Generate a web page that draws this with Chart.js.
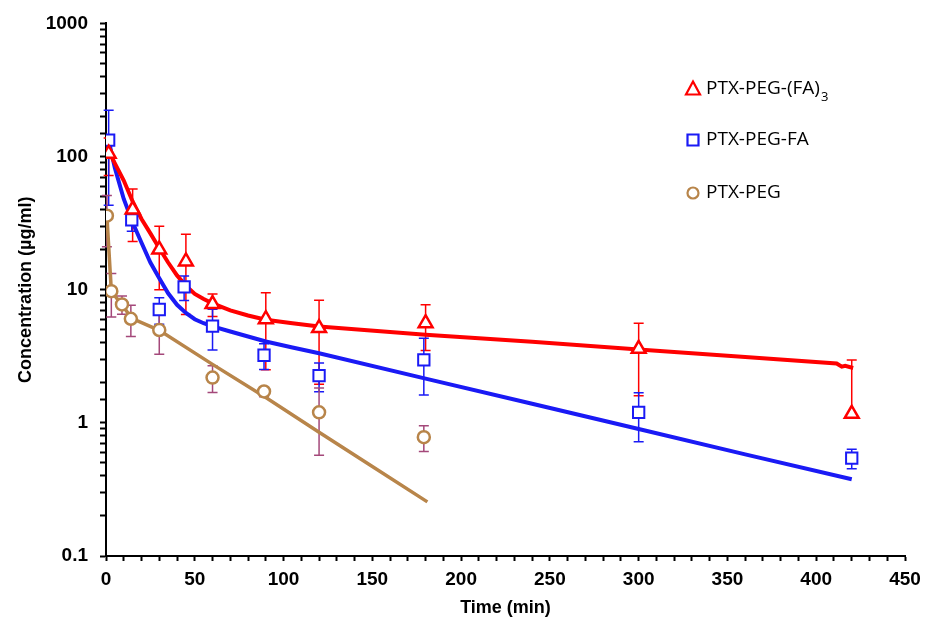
<!DOCTYPE html>
<html>
<head>
<meta charset="utf-8">
<script src="https://cdn.jsdelivr.net/npm/chart.js@4/dist/chart.umd.min.js"></script>
<style>
  html, body { margin: 0; padding: 0; background: #fff; }
  #wrap { width: 930px; height: 621px; position: relative; }
</style>
</head>
<body>
<div id="wrap"><canvas id="c" width="930" height="621"></canvas></div>
<script>
// ---- measured data ----
const redT   = [1.5, 15, 30, 45, 60, 90, 120, 180, 300, 420];
const redC   = [105, 40, 20, 16.3, 7.8, 6.0, 5.15, 5.6, 3.6, 1.17];
const redSD  = [33, 17, 10, 9.8, 1.5, 3.5, 3.2, 2.1, 2.0, 1.8];

const blueT  = [1.5, 14.5, 30, 44, 60, 89, 120, 179, 300, 420];
const blueC  = [133, 33.5, 7.1, 10.5, 5.33, 3.22, 2.26, 2.97, 1.2, 0.543];
const blueSD = [90, 6, 1.6, 2.2, 1.8, 0.7, 0.55, 1.35, 0.48, 0.09];

const brownT  = [0.5, 3, 9, 14, 30, 60, 89, 120, 179];
const brownC  = [36, 9.75, 7.75, 6.05, 4.98, 2.19, 1.72, 1.2, 0.78];
const brownSD = [15, 3.5, 1.2, 1.6, 1.7, 0.5, 0.15, 0.63, 0.17];

// fitted curves
const redFitT  = [1.5, 5, 10, 15, 20, 25, 30, 35, 40, 45, 50, 55, 60, 70, 80, 90, 105, 120, 180, 240, 300, 360, 411.5, 414.4, 416.3, 420.8];
const redFitC  = [110, 89, 66, 46, 34, 26.5, 20.5, 16, 12.8, 10.7, 9.3, 8.5, 7.9, 7.0, 6.4, 5.95, 5.6, 5.3, 4.58, 4.07, 3.56, 3.12, 2.79, 2.64, 2.68, 2.58];
const blueFitT = [1.5, 5, 10, 15, 20, 25, 30, 35, 40, 45, 50, 55, 60, 70, 80, 90, 105, 120, 180, 240, 300, 360, 420];
const blueFitC = [132, 82, 48, 32, 22.5, 16, 12.2, 9.4, 7.7, 6.7, 6.0, 5.6, 5.3, 4.85, 4.45, 4.08, 3.68, 3.33, 2.15, 1.39, 0.90, 0.58, 0.377];
const brownFitT = [0.5, 3, 9, 14.5, 30, 60, 90, 120, 150, 181];
const brownFitC = [36, 9.7, 7.7, 6.1, 4.95, 2.75, 1.55, 0.85, 0.47, 0.255];

const xTicksMajor = [0, 50, 100, 150, 200, 250, 300, 350, 400, 450];
const yTicksMajor = [0.1, 1, 10, 100, 1000];

const seriesNames = ['PTX-PEG-(FA)', 'PTX-PEG-FA', 'PTX-PEG'];
const seriesSub   = ['3', '', ''];

const RED = '#FF0000', BLUE = '#1A1AF5', BROWN = '#B8854A', BROWN_ERR = '#A4487A';

const pts = (t, c) => t.map((v, i) => ({ x: v, y: c[i] }));

const errorBars = {
  id: 'errorBars',
  beforeDatasetsDraw(chart) {
    const { ctx, scales: { x, y } } = chart;
    chart.data.datasets.forEach(ds => {
      if (!ds.sd) return;
      ctx.save();
      ctx.strokeStyle = ds.errColor;
      ctx.lineWidth = 1.5;
      ds.data.forEach((p, i) => {
        const s = ds.sd[i];
        const px = x.getPixelForValue(p.x);
        const yTop = y.getPixelForValue(p.y + s);
        const lo = p.y - s;
        const yBot = lo > 0 ? y.getPixelForValue(lo) : y.getPixelForValue(p.y);
        ctx.beginPath();
        ctx.moveTo(px, yTop); ctx.lineTo(px, yBot);
        ctx.moveTo(px - 5, yTop); ctx.lineTo(px + 5, yTop);
        if (lo > 0) { ctx.moveTo(px - 5, yBot); ctx.lineTo(px + 5, yBot); }
        ctx.stroke();
      });
      ctx.restore();
    });
  }
};

const customLegend = {
  id: 'customLegend',
  afterDraw(chart) {
    const ctx = chart.ctx;
    const rows = [
      { y: 89, color: RED, style: 'triangle' },
      { y: 140, color: BLUE, style: 'rect' },
      { y: 193, color: BROWN, style: 'circle' }
    ];
    ctx.save();
    rows.forEach((r, i) => {
      const mx = 693;
      ctx.strokeStyle = r.color; ctx.lineWidth = 2.2; ctx.fillStyle = '#fff';
      ctx.beginPath();
      if (r.style === 'triangle') {
        ctx.moveTo(mx, r.y - 7.5); ctx.lineTo(mx + 7, r.y + 5.5); ctx.lineTo(mx - 7, r.y + 5.5); ctx.closePath();
      } else if (r.style === 'rect') {
        ctx.rect(mx - 5.5, r.y - 5.5, 11, 11);
      } else {
        ctx.arc(mx, r.y, 5.5, 0, Math.PI * 2);
      }
      ctx.fill(); ctx.stroke();
      ctx.fillStyle = '#000';
      ctx.font = '19px "Open Sans", Lato, sans-serif';
      ctx.textBaseline = 'middle';
      ctx.textAlign = 'left';
      ctx.fillText(seriesNames[i], 706, r.y);
      if (seriesSub[i]) {
        const w = ctx.measureText(seriesNames[i]).width;
        ctx.font = '13px "Open Sans", Lato, sans-serif';
        ctx.fillText(seriesSub[i], 706 + w + 1, r.y + 8);
      }
    });
    ctx.restore();
  }
};

new Chart(document.getElementById('c'), {
  type: 'scatter',
  data: {
    datasets: [
      { label: seriesNames[0], data: pts(redT, redC), sd: redSD, errColor: RED, order: 0,
        pointStyle: 'triangle', pointRadius: 8, pointBorderWidth: 2.5, borderColor: RED, backgroundColor: '#fff', showLine: false },
      { label: seriesNames[1], data: pts(blueT, blueC), sd: blueSD, errColor: BLUE, order: 0,
        pointStyle: 'rect', pointRadius: 8, pointBorderWidth: 2, borderColor: BLUE, backgroundColor: '#fff', showLine: false },
      { label: seriesNames[2], data: pts(brownT, brownC), sd: brownSD, errColor: BROWN_ERR, order: 0,
        pointStyle: 'circle', pointRadius: 6, pointBorderWidth: 2.5, borderColor: BROWN, backgroundColor: '#fff', showLine: false },
      { label: 'fit1', data: pts(redFitT, redFitC), showLine: true, pointRadius: 0, borderColor: RED, borderWidth: 4, tension: 0, order: 1 },
      { label: 'fit2', data: pts(blueFitT, blueFitC), showLine: true, pointRadius: 0, borderColor: BLUE, borderWidth: 4, tension: 0, order: 1 },
      { label: 'fit3', data: pts(brownFitT, brownFitC), showLine: true, pointRadius: 0, borderColor: BROWN, borderWidth: 3.5, tension: 0, order: 1 }
    ]
  },
  options: {
    responsive: false,
    animation: false,
    layout: { padding: { top: 21, right: 25, left: 0, bottom: 0 } },
    plugins: { legend: { display: false }, tooltip: { enabled: false } },
    scales: {
      x: {
        type: 'linear', min: 0, max: 450,
        afterFit(s) { s.height = 65; },
        ticks: {
          stepSize: 10, autoSkip: false, maxRotation: 0, padding: 7, color: '#000',
          font: { family: '"Liberation Sans", Arial, sans-serif', size: 19, weight: 'bold' },
          callback: v => xTicksMajor.includes(v) ? String(v) : ''
        },
        grid: { drawOnChartArea: false, drawTicks: true, tickLength: 5, tickColor: '#000', tickWidth: 2 },
        border: { display: true, color: '#000', width: 2 },
        title: { display: true, text: 'Time (min)', color: '#000', padding: { top: 0, bottom: 2 },
          font: { family: '"Liberation Sans", Arial, sans-serif', size: 18, weight: 'bold' } }
      },
      y: {
        type: 'logarithmic', min: 0.1, max: 1000,
        afterFit(s) { s.width = 106; },
        ticks: {
          autoSkip: false, padding: 12, color: '#000',
          font: { family: '"Liberation Sans", Arial, sans-serif', size: 19, weight: 'bold' },
          callback: v => yTicksMajor.some(m => Math.abs(m - v) < 1e-9) ? String(v) : ''
        },
        grid: { drawOnChartArea: false, drawTicks: true, tickLength: 6, tickColor: '#000', tickWidth: 2 },
        border: { display: true, color: '#000', width: 2 },
        title: { display: true, text: 'Concentration (µg/ml)', color: '#000', padding: { top: 15, bottom: 0 },
          font: { family: '"Liberation Sans", Arial, sans-serif', size: 18, weight: 'bold' } }
      }
    }
  },
  plugins: [errorBars, customLegend]
});
</script>
</body>
</html>
